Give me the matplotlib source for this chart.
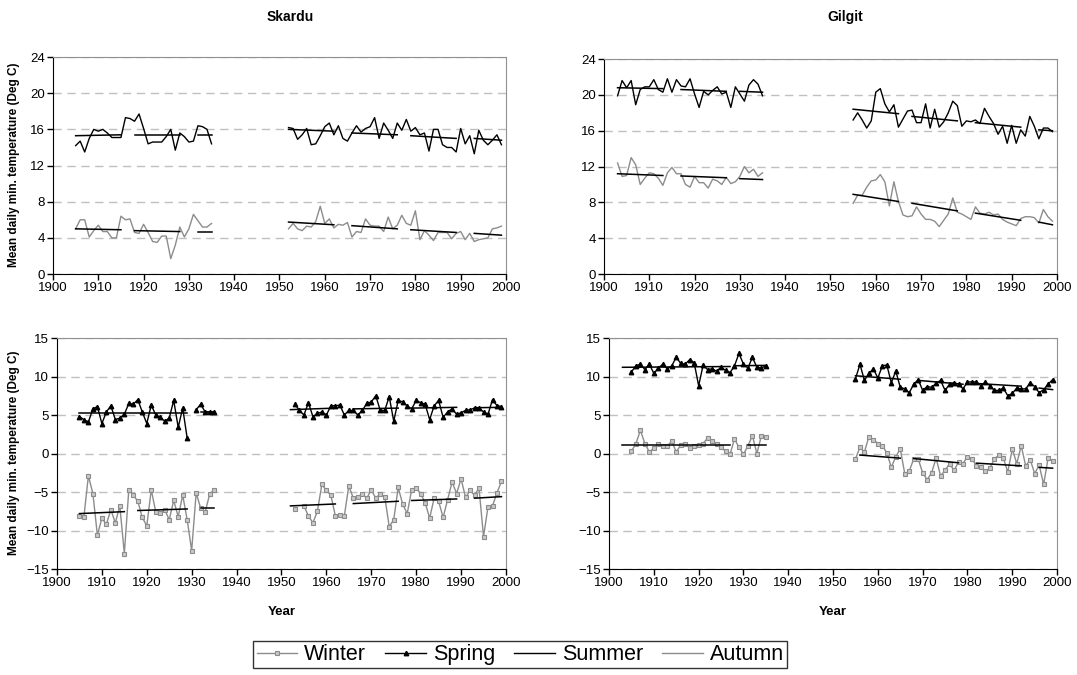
import numpy as np
import matplotlib
matplotlib.use("Agg")
import matplotlib.pyplot as plt
from matplotlib.lines import Line2D

plt.rcParams['font.family'] = ['Liberation Sans', 'DejaVu Sans']

nan = np.nan
years_early = np.arange(1903, 1936)
years_late = np.arange(1952, 2000)

# Skardu
sk_summer_early = [nan, nan, 14.2, 14.7, 13.5, 15.0, 16.0, 15.8, 16.0, 15.6, 15.1, 15.1, 15.1, 17.3, 17.2, 16.9,
                   17.7, 16.1, 14.4, 14.6, 14.6, 14.6, 15.2, 16.0, 13.7, 15.6, 15.2, 14.6, 14.7, 16.4, 16.3, 16.0, 14.4]
sk_summer_late = [16.2, 16.1, 14.9, 15.4, 16.1, 14.3, 14.4, 15.3, 16.3, 16.7, 15.4, 16.4, 15.0, 14.7, 15.6, 16.4,
                  15.7, 16.1, 16.3, 17.3, 15.0, 16.7, 15.9, 15.0, 16.7, 15.9, 17.1, 15.8, 16.2, 15.4, 15.6, 13.6,
                  16.0, 16.0, 14.3, 14.0, 14.0, 13.5, 16.1, 14.4, 15.3, 13.3, 15.9, 14.8, 14.3, 14.8, 15.4, 14.3]
sk_autumn_early = [nan, nan, 5.0, 6.0, 6.0, 4.1, 4.8, 5.4, 4.7, 4.7, 4.0, 4.0, 6.4, 6.0, 6.1, 4.6, 4.5, 5.5, 4.6,
                   3.6, 3.5, 4.2, 4.2, 1.7, 3.2, 5.2, 4.1, 5.0, 6.6, 5.9, 5.2, 5.2, 5.6]
sk_autumn_late = [5.0, 5.6, 5.0, 4.8, 5.3, 5.2, 5.8, 7.5, 5.6, 6.1, 5.1, 5.5, 5.4, 5.7, 4.1, 4.7, 4.6, 6.1, 5.4,
                  5.3, 5.3, 4.7, 6.3, 5.0, 5.4, 6.5, 5.6, 5.4, 7.0, 3.8, 4.8, 4.3, 3.7, 4.6, 4.6, 4.6, 3.9, 4.5,
                  4.7, 3.8, 4.5, 3.6, 3.8, 3.9, 4.0, 5.0, 5.1, 5.3]
sk_spring_early = [nan, nan, 4.8, 4.4, 4.1, 5.8, 6.1, 3.9, 5.4, 6.2, 4.4, 4.6, 5.1, 6.5, 6.4, 7.0, 5.4, 3.9, 6.3,
                   5.0, 4.7, 4.2, 4.6, 6.9, 3.4, 5.9, 2.0, nan, 5.7, 6.4, 5.4, 5.4, 5.4]
sk_spring_late = [nan, 6.4, 5.6, 5.0, 6.6, 4.8, 5.2, 5.4, 5.0, 6.2, 6.2, 6.3, 5.0, 5.6, 5.6, 5.0, 5.6, 6.5, 6.7,
                  7.5, 5.6, 5.6, 7.4, 4.2, 6.9, 6.7, 6.2, 5.8, 6.9, 6.6, 6.4, 4.4, 6.2, 6.9, 4.7, 5.4, 5.8, 5.1,
                  5.3, 5.6, 5.7, 5.9, 5.9, 5.4, 5.1, 7.0, 6.2, 6.1]
sk_winter_early = [nan, nan, -8.1, -8.2, -2.9, -5.2, -10.6, -8.4, -9.2, -7.3, -9.0, -6.8, -13.0, -4.7, -5.4, -6.2,
                   -8.3, -9.4, -4.7, -7.6, -7.7, -7.3, -8.6, -6.1, -8.2, -5.4, -8.6, -12.6, -5.1, -7.1, -7.6, -5.3, -4.7]
sk_winter_late = [nan, -7.2, nan, -6.8, -8.1, -9.0, -7.5, -4.0, -4.8, -5.4, -8.1, -8.0, -8.1, -4.2, -5.8, -5.7,
                  -5.2, -5.8, -4.7, -5.8, -5.2, -5.6, -9.5, -8.6, -4.4, -6.6, -7.8, -4.7, -4.5, -5.2, -6.4, -8.4,
                  -5.8, -6.2, -8.3, -6.0, -3.7, -5.2, -3.3, -5.7, -4.8, -5.4, -4.5, -10.8, -6.9, -6.8, -5.1, -3.6]

# Gilgit
gi_summer_early = [19.9, 21.6, 20.8, 21.6, 18.9, 20.6, 20.9, 20.9, 21.7, 20.6, 20.3, 21.8, 20.3, 21.7, 21.0, 20.9,
                   21.8, 20.1, 18.6, 20.4, 20.0, 20.5, 20.9, 20.1, 20.3, 18.6, 20.9, 20.1, 19.3, 21.1, 21.7, 21.2, 19.9]
gi_summer_late = [nan, nan, nan, 17.2, 18.0, 17.2, 16.3, 17.1, 20.3, 20.7, 19.0, 18.1, 18.9, 16.4, 17.3, 18.2,
                  18.3, 16.9, 16.9, 19.0, 16.3, 18.4, 16.4, 17.0, 18.0, 19.3, 18.8, 16.5, 17.1, 17.0, 17.2, 16.8,
                  18.5, 17.6, 16.8, 15.6, 16.5, 14.6, 16.6, 14.6, 16.1, 15.4, 17.6, 16.5, 15.1, 16.3, 16.3, 15.9]
gi_autumn_early = [12.4, 10.9, 11.0, 13.0, 12.2, 10.0, 10.7, 11.3, 11.2, 10.7, 9.9, 11.3, 11.9, 11.2, 11.2, 10.0,
                   9.7, 10.9, 10.2, 10.2, 9.6, 10.6, 10.4, 10.0, 10.8, 10.1, 10.3, 10.9, 12.0, 11.3, 11.7, 10.9, 11.3]
gi_autumn_late = [nan, nan, nan, 7.9, 8.8, 8.8, 9.7, 10.4, 10.5, 11.1, 10.3, 7.6, 10.3, 8.1, 6.6, 6.4, 6.5, 7.5,
                  6.7, 6.1, 6.1, 5.9, 5.3, 6.0, 6.7, 8.5, 6.9, 6.7, 6.4, 6.1, 7.5, 6.8, 6.7, 6.9, 6.6, 6.7, 6.1,
                  5.8, 5.6, 5.4, 6.2, 6.4, 6.4, 6.3, 5.7, 7.2, 6.4, 5.9]
gi_spring_early = [nan, nan, 10.6, 11.4, 11.6, 10.9, 11.6, 10.4, 11.1, 11.6, 11.0, 11.4, 12.5, 11.7, 11.6, 12.2,
                   11.8, 8.8, 11.5, 10.9, 11.0, 10.7, 11.2, 10.8, 10.5, 11.4, 13.0, 11.6, 11.1, 12.5, 11.2, 11.1, 11.4]
gi_spring_late = [nan, nan, nan, 9.7, 11.6, 9.5, 10.4, 11.0, 9.8, 11.4, 11.5, 9.2, 10.7, 8.6, 8.4, 7.9, 9.0, 9.6,
                  8.2, 8.7, 8.6, 9.1, 9.5, 8.2, 9.0, 9.2, 9.0, 8.4, 9.3, 9.3, 9.3, 8.8, 9.3, 8.8, 8.2, 8.2, 8.5,
                  7.5, 7.8, 8.5, 8.4, 8.4, 9.2, 8.7, 7.9, 8.3, 9.0, 9.6]
gi_winter_early = [nan, nan, 0.3, 1.3, 3.0, 1.3, 0.2, 0.7, 1.2, 1.0, 1.0, 1.6, 0.2, 1.1, 1.3, 0.7, 1.0, 1.1, 1.3,
                   2.0, 1.6, 1.3, 0.8, 0.3, -0.1, 1.9, 0.8, -0.1, 1.0, 2.3, 0.0, 2.3, 2.2]
gi_winter_late = [nan, nan, nan, -0.7, 0.8, 0.2, 2.2, 1.8, 1.3, 1.0, 0.1, -1.8, -0.4, 0.6, -2.6, -2.3, -0.7, -0.7,
                  -2.5, -3.4, -2.5, -0.6, -2.9, -2.2, -1.3, -2.2, -1.1, -1.3, -0.4, -0.7, -1.6, -1.8, -2.3, -1.9,
                  -0.7, -0.2, -0.6, -2.4, 0.6, -1.3, 1.0, -1.6, -0.8, -2.6, -1.5, -4.0, -0.6, -1.0]

# linear trends per sub-period: (first year, last year, value at first, value at last)
sk_summer_trend = [(1905, 1915, 15.3, 15.4), (1918, 1928, 15.4, 15.4), (1932, 1935, 15.4, 15.4),
                   (1952, 1962, 16.0, 15.8), (1966, 1976, 15.6, 15.4), (1979, 1989, 15.3, 15.0), (1993, 1999, 15.0, 14.8)]
sk_autumn_trend = [(1905, 1915, 5.0, 4.9), (1918, 1928, 4.8, 4.7), (1932, 1935, 4.7, 4.7),
                   (1952, 1962, 5.75, 5.45), (1966, 1976, 5.35, 5.0), (1979, 1989, 4.9, 4.6), (1993, 1999, 4.5, 4.3)]
gi_summer_trend = [(1903, 1913, 20.8, 20.7), (1917, 1927, 20.6, 20.4), (1930, 1935, 20.4, 20.3),
                   (1955, 1965, 18.4, 17.9), (1968, 1978, 17.6, 17.1), (1982, 1992, 16.9, 16.4), (1996, 1999, 16.1, 16.0)]
gi_autumn_trend = [(1903, 1913, 11.2, 11.0), (1917, 1927, 10.95, 10.75), (1930, 1935, 10.65, 10.55),
                   (1955, 1965, 8.9, 8.1), (1968, 1978, 7.9, 7.05), (1982, 1992, 6.8, 6.0), (1996, 1999, 5.8, 5.5)]
sk_spring_trend = [(1905, 1929, 5.2, 5.2), (1932, 1935, 5.35, 5.35),
                   (1952, 1962, 5.7, 5.9), (1966, 1976, 5.8, 5.9), (1979, 1989, 5.9, 6.0), (1993, 1999, 5.95, 6.0)]
sk_winter_trend = [(1905, 1915, -7.8, -7.55), (1918, 1929, -7.4, -7.2), (1932, 1935, -7.1, -7.1),
                   (1952, 1962, -6.8, -6.55), (1966, 1976, -6.5, -6.2), (1979, 1989, -6.1, -5.9), (1993, 1999, -5.8, -5.6)]
gi_spring_trend = [(1903, 1927, 11.2, 11.3), (1928, 1935, 11.4, 11.45),
                   (1955, 1965, 10.1, 9.65), (1969, 1979, 9.5, 9.0), (1982, 1992, 9.1, 8.75), (1996, 1999, 8.5, 8.3)]
gi_winter_trend = [(1903, 1927, 1.1, 1.1), (1931, 1935, 1.1, 1.1),
                   (1956, 1965, -0.2, -0.6), (1968, 1978, -0.65, -1.2), (1982, 1992, -1.25, -1.6), (1996, 1999, -1.8, -1.9)]

all_years = np.concatenate([years_early, [nan], years_late])


def join(early, late):
    return np.concatenate([early, [nan], late])


def trends(ax, segs):
    for a, b, va, vb in segs:
        ax.plot([a, b], [va, vb], color='black', lw=1.1, zorder=4)


def style(ax, ylim, step):
    ax.set_xlim(1900, 2000)
    ax.set_ylim(*ylim)
    ax.set_xticks(np.arange(1900, 2001, 10))
    ax.set_yticks(np.arange(ylim[0], ylim[1] + 1, step))
    ax.yaxis.grid(True, color='#c0c0c0', lw=1, ls=(0, (6, 4)))
    ax.set_axisbelow(True)
    for s in ['top', 'right']:
        ax.spines[s].set_color('#909090')
    for s in ['left', 'bottom']:
        ax.spines[s].set_color('black')
    ax.tick_params(direction='out', length=4, width=1, labelsize=9.5, pad=2)


fig = plt.figure(figsize=(10.77, 6.75), dpi=100)
ax1 = fig.add_axes([0.0492, 0.594, 0.4206, 0.3215])
ax2 = fig.add_axes([0.5608, 0.594, 0.4206, 0.3185])
ax3 = fig.add_axes([0.0529, 0.157, 0.4169, 0.3422])
ax4 = fig.add_axes([0.5655, 0.157, 0.4160, 0.3422])

winter_kw = dict(color='#8c8c8c', lw=1, marker='s', ms=3.2, mfc='#c8c8c8', mec='#8c8c8c', mew=0.8)
spring_kw = dict(color='black', lw=1, marker='^', ms=3.2, mfc='black', mec='black')
summer_kw = dict(color='black', lw=1)
autumn_kw = dict(color='#8c8c8c', lw=1)

for ax, summer, autumn, st, at in [(ax1, join(sk_summer_early, sk_summer_late), join(sk_autumn_early, sk_autumn_late), sk_summer_trend, sk_autumn_trend),
                                   (ax2, join(gi_summer_early, gi_summer_late), join(gi_autumn_early, gi_autumn_late), gi_summer_trend, gi_autumn_trend)]:
    ax.plot(all_years, summer, **summer_kw)
    ax.plot(all_years, autumn, **autumn_kw)
    trends(ax, st)
    trends(ax, at)
    style(ax, (0, 24), 4)

for ax, spring, winter, st, wt in [(ax3, join(sk_spring_early, sk_spring_late), join(sk_winter_early, sk_winter_late), sk_spring_trend, sk_winter_trend),
                                   (ax4, join(gi_spring_early, gi_spring_late), join(gi_winter_early, gi_winter_late), gi_spring_trend, gi_winter_trend)]:
    ax.plot(all_years, spring, **spring_kw)
    ax.plot(all_years, winter, **winter_kw)
    trends(ax, st)
    trends(ax, wt)
    style(ax, (-15, 15), 5)
    ax.set_xlabel('Year', fontsize=9.5, fontweight='bold', labelpad=12)

fig.text(0.269, 0.985, 'Skardu', ha='center', va='top', fontsize=10, fontweight='bold')
fig.text(0.785, 0.985, 'Gilgit', ha='center', va='top', fontsize=10, fontweight='bold')
for yc in [1 - 165 / 675, 1 - 453 / 675]:
    fig.text(0.013, yc, 'Mean daily min. temperature (Deg C)', rotation=90, ha='center', va='center',
             fontsize=8.5, fontweight='bold')

handles = [Line2D([], [], **winter_kw), Line2D([], [], **spring_kw),
           Line2D([], [], **summer_kw), Line2D([], [], **autumn_kw)]
leg = fig.legend(handles, ['Winter', 'Spring', 'Summer', 'Autumn'], loc='center', bbox_to_anchor=(0.483, 0.03),
                 ncol=4, fontsize=15.5, frameon=True, fancybox=False, handlelength=1.9, handletextpad=0.3,
                 columnspacing=0.9, borderpad=0.15, borderaxespad=0)
leg.get_frame().set_edgecolor('black')
leg.get_frame().set_linewidth(1)

fig.savefig('out.png', dpi=100)
